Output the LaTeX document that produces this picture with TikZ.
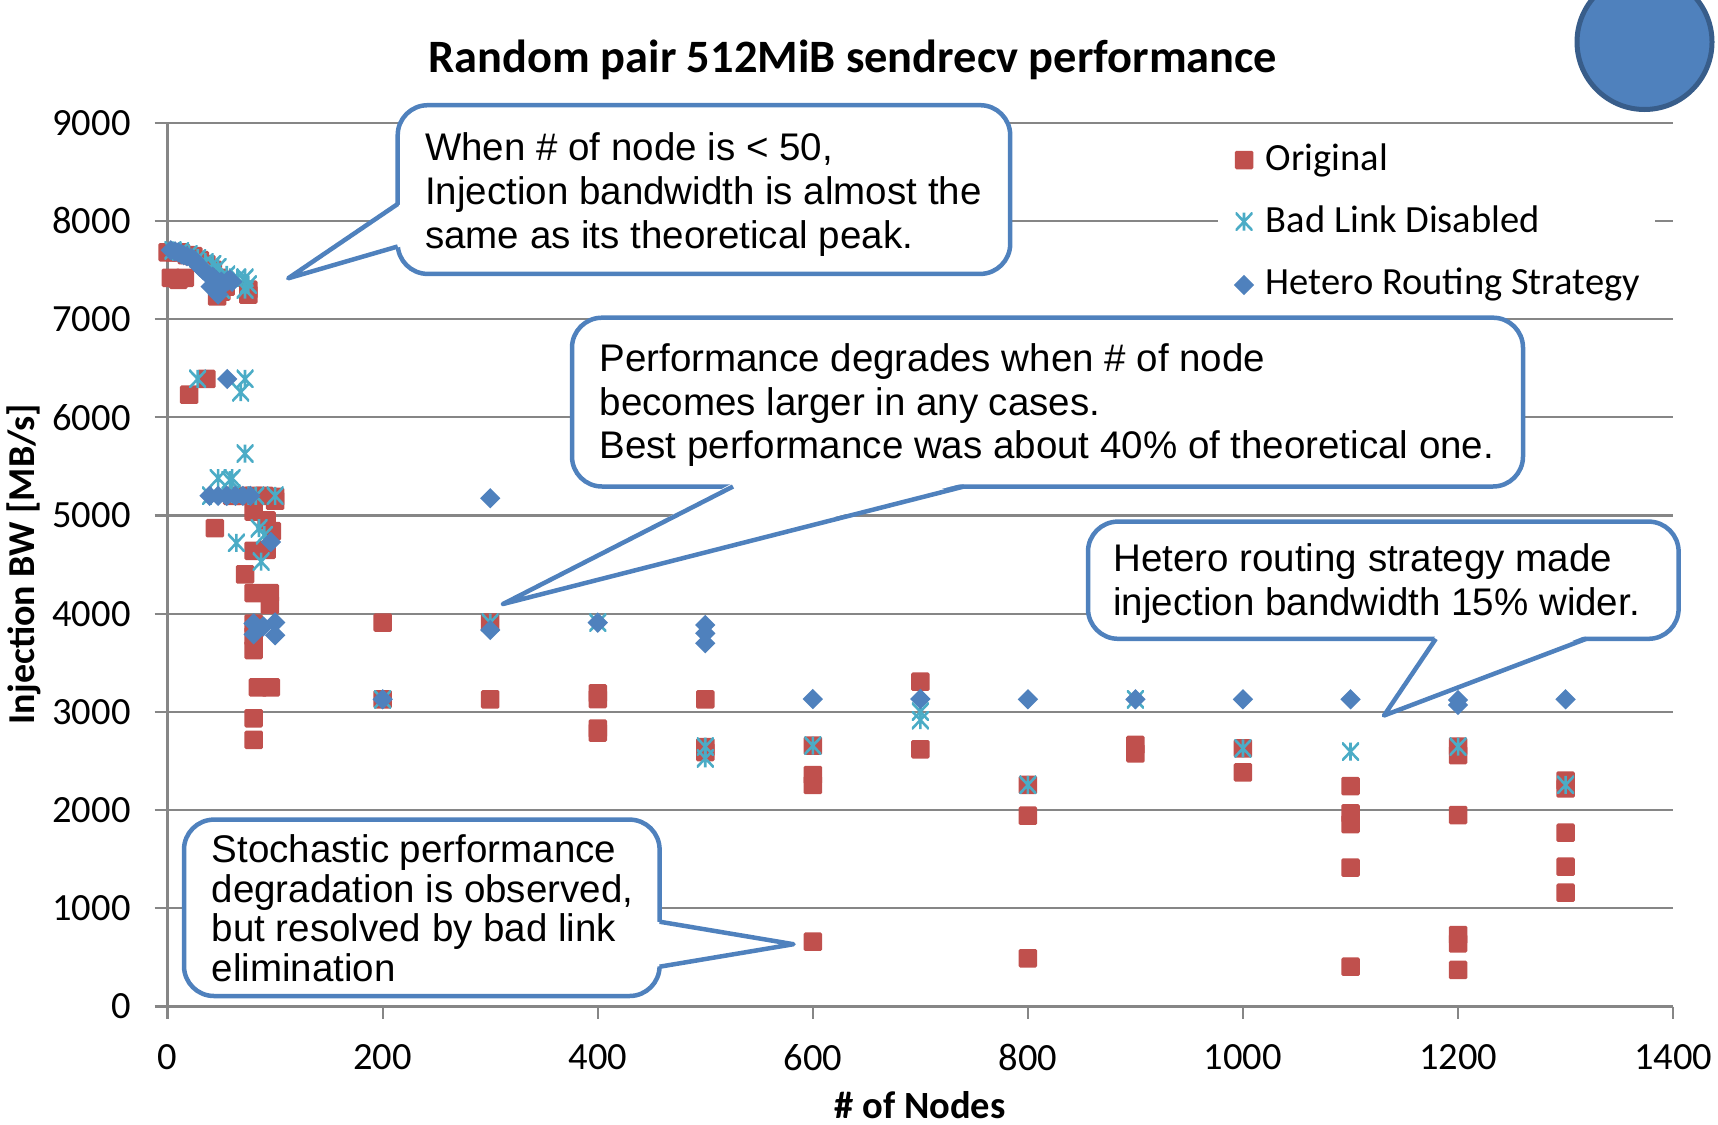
\documentclass[tikz,border=0pt]{standalone}
\usepackage{fontspec}
\setmainfont{Carlito}
\newfontfamily\arialf{Liberation Sans}
\usetikzlibrary{shapes.geometric}
\definecolor{cred}{HTML}{C0504D}
\definecolor{ccyan}{HTML}{4BACC6}
\definecolor{cblue}{HTML}{4F81BD}
\definecolor{cblueb}{HTML}{385D8A}
\definecolor{cgrid}{HTML}{868686}
\begin{document}
\begin{tikzpicture}[x=1pt,y=-1pt,
  gridl/.style={draw=cgrid, line width=2.2pt},
  axisl/.style={draw=cgrid, line width=2.8pt},
  tickl/.style={font=\fontsize{38.5}{44}\selectfont, inner sep=0pt},
  sq/.style={rectangle, fill=cred, minimum size=18.5pt, inner sep=0pt, rounded corners=1.5pt},
  dia/.style={diamond, fill=cblue, minimum size=20.5pt, inner sep=0pt},
  ast/.style={rectangle, minimum width=17pt, minimum height=18pt, inner sep=0pt,
    path picture={\draw[ccyan, line width=2.6pt]
      (path picture bounding box.north) -- (path picture bounding box.south)
      (path picture bounding box.north west) -- (path picture bounding box.south east)
      (path picture bounding box.north east) -- (path picture bounding box.south west);}},
  callout/.style={draw=cblue, line width=4.5pt, fill=white, rounded corners=30pt},
  wedge/.style={draw=cblue, line width=4.5pt, line join=round},
  ctext/.style={font=\arialf\fontsize{38.5}{43.8}\selectfont, align=left, inner sep=0pt, anchor=north west},
  legt/.style={font=\fontsize{38.5}{46}\selectfont, inner sep=0pt, anchor=base west},
  dataspace/.style={shift={(167.6,1006.5)}, x=1.07536pt, y=0.0982pt},
]
\useasboundingbox (0,0) rectangle (1718,1124);

% ---------- plot frame in data coordinates ----------
\begin{scope}[dataspace]
  \foreach \v in {1000,2000,...,9000} \draw[gridl] (-12.1,\v) -- (1400,\v);
  \draw[gridl] (-12.1,0) -- (0,0);
  \foreach \v in {200,400,...,1400} \draw[gridl] (\v,0) -- (\v,-127);
  \draw[axisl] (0,9000) -- (0,-127);
  \draw[axisl] (0,0) -- (1400,0);
  \foreach \v in {0,1000,...,9000} \node[tickl, anchor=east] (yl\v) at (-34.3,\v) {\v};
  \foreach \v in {0,200,...,1400} \node[tickl] (xl\v) at (\v,-516) {\v};
\end{scope}

% legend background
\fill[white] (1218,131.5) rectangle (1654.5,312);

% ---------- data ----------
\begin{scope}[dataspace]
  % Original
  \foreach \a/\b [count=\i] in {0/7680,6/7680,12/7680,18/7650,24/7640,30/7600,36/7560,42/7500,48/7420,54/7330,
      3/7420,16/7420,10/7400,46/7230,50/7280,75/7300,75/7250,
      20/6230,36/6390,44/4870,60/5200,70/5200,80/5200,90/5200,100/5190,100/5150,
      80/5040,92/4950,97/4840,80/4640,92/4650,72/4400,80/4210,95/4210,95/4090,
      80/3900,80/3770,80/3630,84/3250,96/3250,80/2935,80/2715,
      200/3909,200/3128,300/3909,300/3128,
      400/3189,400/3130,400/2830,400/2790,
      500/3128,500/2640,500/2590,
      600/2656,600/2357,600/2256,600/660,
      700/3308,700/2619,
      800/2256,800/1943,800/491,
      900/2663,900/2578,
      1000/2629,1000/2385,
      1100/2245,1100/1967,1100/1858,1100/1414,1100/405,
      1200/2646,1200/2560,1200/1950,1200/728,1200/643,1200/372,
      1300/2300,1300/2220,1300/1770,1300/1424,1300/1159}
    \node[sq] (r\i) at (\a,\b) {};
  % Bad Link Disabled
  \foreach \a/\b [count=\i] in {5/7700,12/7690,20/7660,28/7620,35/7580,42/7560,47/7530,55/7450,65/7420,72/7420,
      72/7300,75/7350,50/7300,
      28/6390,72/6390,68/6255,72/5630,47/5380,60/5380,58/5360,
      40/5200,60/5220,82/5200,100/5200,85/4870,90/4800,64/4720,87/4530,
      200/3128,300/3909,400/3909,500/2646,500/2527,600/2656,700/3002,700/2917,
      800/2256,900/3128,1000/2629,1100/2595,1200/2646,1300/2256}
    \node[ast] (c\i) at (\a,\b) {};
  % Hetero Routing Strategy
  \foreach \a/\b [count=\i] in {3/7700,7/7690,10/7680,13/7660,15/7650,18/7640,22/7620,25/7600,28/7560,30/7530,33/7500,
      35/7480,38/7450,42/7430,45/7400,50/7380,52/7350,56/7390,58/7400,60/7380,
      47/7250,40/7330,
      55.5/6390,39/5200,47/5200,55/5200,63/5200,70/5200,77/5200,96/4730,
      80/3900,100/3910,89/3870,80/3790,100/3780,
      200/3128,300/5175,300/3834,400/3909,500/3885,500/3800,500/3699,
      600/3131,700/3131,800/3128,900/3128,1000/3128,1100/3128,1200/3121,1200/3070,1300/3128}
    \node[dia] (h\i) at (\a,\b) {};
\end{scope}

% ---------- legend ----------
\node[sq] (lg1) at (1244,160) {};
\node[ast] (lg2) at (1244,221.7) {};
\node[dia] (lg3) at (1244,285) {};
\node[legt] (lgt1) at (1265.5,170.7) {Original};
\node[legt] (lgt2) at (1265.5,232.7) {Bad Link Disabled};
\node[legt] (lgt3) at (1265.5,294.3) {Hetero Routing Strategy};

% ---------- titles ----------
\node[font=\bfseries\fontsize{46.4}{55}\selectfont, anchor=base, inner sep=0pt] (title) at (853,72) {Random pair 512MiB sendrecv performance};
\node[font=\bfseries\fontsize{38}{46}\selectfont, rotate=90, inner sep=0pt] (ylab) at (24,564) {Injection BW [MB/s]};
\node[font=\bfseries\fontsize{38.5}{46}\selectfont, anchor=base, inner sep=0pt] (xlab) at (920,1118) {\# of Nodes};

% ---------- callout 1 ----------
\draw[callout] (397.7,105.2) rectangle (1010.2,273.9);
\coordinate (t1) at (288.2,278.3);
\coordinate (a1) at (397.7,204);
\coordinate (b1) at (397.7,246.5);
\fill[white] (t1) -- (401,204) -- (401,246.5) -- cycle;
\draw[wedge] (a1) -- (t1) -- (b1);
\node[ctext] (txt1) at (425,132.8) {When \# of node is < 50,\\Injection bandwidth is almost the\\same as its theoretical peak.};

% ---------- callout 2 ----------
\draw[callout] (572,317.7) rectangle (1523,486.5);
\coordinate (t2) at (503,604);
\coordinate (a2) at (733,486.5);
\coordinate (b2) at (964,486.5);
\fill[white] (t2) -- (733,483) -- (964,483) -- cycle;
\draw[wedge] (a2) -- (t2) -- (b2);
\node[ctext] (txt2) at (599.4,343.2) {Performance degrades when \# of node\\becomes larger in any cases.\\Best performance was about 40\% of theoretical one.};

% ---------- callout 3 ----------
\draw[callout] (1088,521.6) rectangle (1678.6,638.8);
\coordinate (t3) at (1384,715.5);
\coordinate (a3) at (1435.8,638.8);
\coordinate (b3) at (1586.3,638.8);
\fill[white] (t3) -- (1435.8,635.3) -- (1586.3,635.3) -- cycle;
\draw[wedge] (a3) -- (t3) -- (b3);
\node[ctext] (txt3) at (1113.2,543.7) {Hetero routing strategy made\\injection bandwidth 15\% wider.};

% ---------- callout 4 ----------
\draw[callout] (184,819.6) rectangle (659.6,996);
\coordinate (t4) at (793.5,944.2);
\coordinate (a4) at (659.6,921.7);
\coordinate (b4) at (659.6,966.7);
\fill[white] (t4) -- (656,921.7) -- (656,966.7) -- cycle;
\draw[wedge] (a4) -- (t4) -- (b4);
\node[ctext, font=\arialf\fontsize{38.5}{39.8}\selectfont] (txt4) at (211.5,834.1) {Stochastic performance\\degradation is observed,\\but resolved by bad link\\elimination};

% ---------- decorative circle ----------
\draw[fill=cblue, draw=cblueb, line width=5pt] (1644.5,42) circle[radius=67.5pt];
\end{tikzpicture}
\end{document}
